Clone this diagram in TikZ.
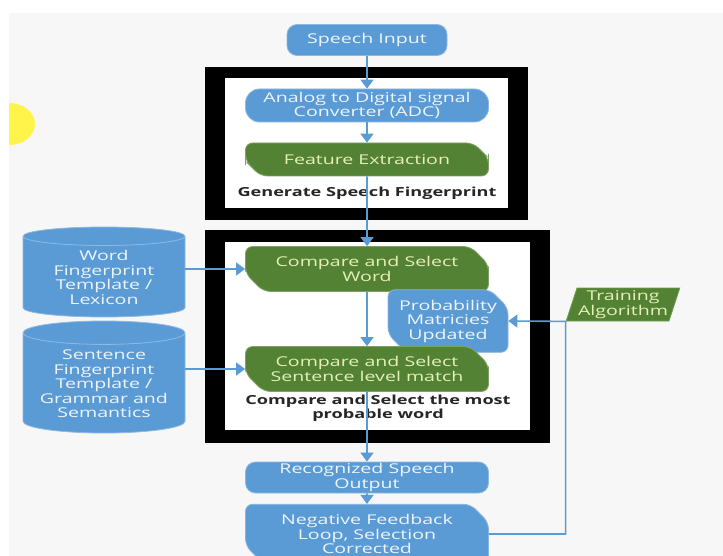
\documentclass[tikz,border=0pt]{standalone}
\usepackage{fontspec}
\setsansfont{Open Sans}[FakeStretch=1.45]
\usetikzlibrary{arrows.meta,positioning,shapes.geometric,shapes.misc}
\definecolor{boxBlue}{HTML}{5B9BD5}
\definecolor{boxBlueEdge}{HTML}{8CB8E2}
\definecolor{boxGreen}{HTML}{548235}
\definecolor{boxGreenEdge}{HTML}{6F9A4E}
\definecolor{greenText}{HTML}{E4F0B8}
\definecolor{blueText}{HTML}{EEF4FB}
\definecolor{pageGray}{HTML}{F7F7F7}
\definecolor{markYellow}{HTML}{FFF44A}
\colorlet{linkBlue}{boxBlue}
\tikzset{
  >=Triangle,
  font=\sffamily\fontsize{13.5}{14.5}\selectfont,
  roundbox/.style={
    rounded corners=10pt,
    fill=boxBlue,
    draw=boxBlueEdge,
    line width=0.8pt,
    text=blueText,
    align=center,
    inner sep=1pt,
    minimum width=243pt,
    minimum height=32pt
  },
  snipbox/.style={
    chamfered rectangle,
    chamfered rectangle corners={north east,south west},
    chamfered rectangle xsep=9pt,
    chamfered rectangle ysep=9pt,
    rounded corners=7pt,
    fill=#1,
    draw=#1!75!white,
    line width=0.8pt,
    align=center,
    inner sep=1pt,
    minimum width=243pt,
    minimum height=32pt
  },
  greensnip/.style={snipbox=boxGreen, text=greenText},
  bluesnip/.style={snipbox=boxBlue, text=blueText},
  store/.style={
    cylinder,
    shape border rotate=90,
    aspect=0.18,
    anchor=shape center,
    cylinder uses custom fill,
    cylinder body fill=boxBlue,
    cylinder end fill=boxBlue,
    draw=boxBlueEdge,
    line width=0.8pt,
    text=blueText,
    align=center,
    inner sep=1pt,
    minimum width=162pt
  },
  trainbox/.style={
    trapezium,
    trapezium left angle=70,
    trapezium right angle=110,
    trapezium stretches body,
    fill=boxGreen,
    draw=boxGreenEdge,
    line width=0.8pt,
    text=greenText,
    align=center,
    inner sep=1pt,
    minimum width=98pt,
    minimum height=33pt
  },
  captext/.style={
    font=\sffamily\bfseries\fontsize{12.5}{14}\selectfont,
    text=black!85,
    align=center
  },
  link/.style={
    -{Triangle[length=9pt,width=13pt]},
    line width=1.6pt,
    draw=linkBlue
  }
}
\begin{document}
\begin{tikzpicture}[x=1pt,y=-1pt]
\useasboundingbox (0,0) rectangle (723,556);
\clip (0,0) rectangle (723,556);
\fill[white] (0,0) rectangle (723,556);
\fill[pageGray] (9,13) rectangle (723,556);
% yellow marker at the left edge
\begin{scope}
  \clip (9,13) rectangle (80,200);
  \fill[markYellow] (9,124) ellipse [x radius=26, y radius=21];
\end{scope}

% black frames
\fill[black] (205,67) rectangle (528,220);
\fill[white] (225,78) rectangle (508,208);
\fill[black] (205,230) rectangle (550,443);
\fill[white] (225,242) rectangle (530,430);

\node[roundbox, minimum width=160pt, minimum height=31pt] (input) at (367,40) {Speech Input};
\node[roundbox, minimum height=33pt, rounded corners=14pt] (adc) at (367,105.5)
{Analog to Digital signal\\Converter (ADC)};
\node[greensnip, minimum height=33pt] (feat) at (367,159.5) {Feature Extraction};
\node[captext] (genlab) at (367,193) {Generate Speech Fingerprint};

\node[greensnip] (word) at (367,269) {Compare and Select\\Word};
\node[bluesnip, minimum width=120pt, minimum height=46pt] (prob) at (448,321)
{Probability\\Matricies\\Updated};
\node[greensnip] (sent) at (367,369) {Compare and Select\\Sentence level match};
\node[captext] (problab) at (378,408.5) {Compare and Select the most\\probable word};

\node[store, minimum height=90pt] (lexicon) at (104,272)
{Word\\Fingerprint\\Template /\\Lexicon};
\node[store, minimum height=112pt] (grammar) at (104,377)
{Sentence\\Fingerprint\\Template /\\Grammar and\\Semantics};

\node[trainbox] (train) at (623,304.5) {Training\\Algorithm};

\node[roundbox, minimum height=31pt] (output) at (367,477.5) {Recognized Speech\\Output};
\node[bluesnip, minimum height=48pt] (feedback) at (367,534)
{Negative Feedback\\Loop, Selection\\Corrected};

\draw[link] (input) -- (adc);
\draw[link] (adc) -- (feat);
\draw[link] (feat) -- (word);
\draw[link] (word) -- (sent);
\draw[link] (sent) -- (output);
\draw[link] (output) -- (feedback);
\draw[link] (lexicon.east |- word.west) -- (word.west);
\draw[link] (grammar.east |- sent.west) -- (sent.west);
\draw[link] (feedback.east) -| (train.bottom left corner) -- (prob.east);

\end{tikzpicture}
\end{document}
